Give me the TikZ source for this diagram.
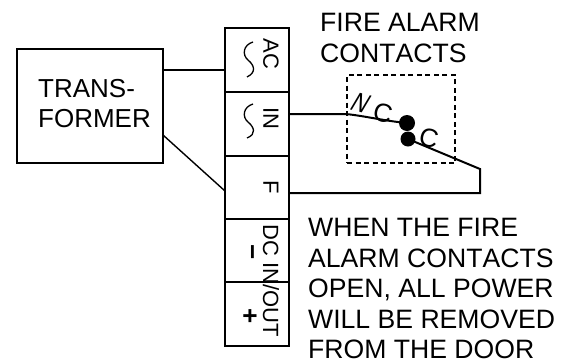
\documentclass[tikz,border=0pt]{standalone}
\usepackage{fontspec}
\setmainfont[Kerning=Off]{Liberation Sans}
\tikzset{
  heavy/.style={line width=2.6pt,draw=black},
  wire/.style={line width=2pt,draw=black,line join=miter},
  cell/.style={heavy,minimum width=64pt,minimum height=#1,inner sep=0pt,outer sep=0pt,anchor=north west},
  termlabel/.style={font=\fontsize{22}{22}\selectfont,rotate=-90,inner sep=0pt},
  note/.style={font=\fontsize{26.6}{30.5}\selectfont,align=left,inner sep=0pt,anchor=north west},
  squig/.style={line width=1.3pt,draw=black},
}
\begin{document}
\begin{tikzpicture}[x=1pt,y=-1pt]
\useasboundingbox (0,0) rectangle (570,362);
% transformer
\node[heavy,minimum width=146pt,minimum height=114pt,inner sep=0pt,outer sep=0pt,anchor=north west] (tr) at (17,49) {};
\node[font=\fontsize{26}{30}\selectfont,align=left,inner sep=0pt,anchor=north west] (trt) at (38,79.5) {TRANS-\\FORMER};
% terminal block
\node[cell=64pt] (ac) at (225,28) {};
\node[cell=64pt] (in) at (225,92) {};
\node[cell=63pt] (f) at (225,156) {};
\node[cell=63pt] (dc) at (225,219) {};
\node[cell=64pt] (pl) at (225,282) {};
\node[termlabel] (acl) at (271,54) {AC};
\node[termlabel] (inl) at (271,118) {IN};
\node[termlabel] (fl) at (271,187) {F};
\node[termlabel] (dcl) at (271,281) {DC IN/OUT};
\node[font=\bfseries\fontsize{26}{26}\selectfont,rotate=-90,inner sep=0pt] (mi) at (249,252) {\textminus};
\node[font=\bfseries\fontsize{26}{26}\selectfont,rotate=-90,inner sep=0pt] (pls) at (249,316) {+};
% squiggles
\draw[squig] (253,42) .. controls (243,45) and (242,55) .. (248,60) .. controls (254,65) and (257,72) .. (247,77);
\draw[squig] (253,104) .. controls (243,107) and (242,117) .. (248,122) .. controls (254,127) and (257,134) .. (247,138);
% coordinates for wires
\coordinate (tra) at (163,70);
\coordinate (acw) at (225,70);
\coordinate (trb) at (163,135);
\coordinate (fw) at (225,191);
\coordinate (ino) at (288,114);
\coordinate (fo) at (288,193);
\coordinate (k1) at (346,114);
\coordinate (k2) at (480,169);
\coordinate (k3) at (480,193);
\draw[wire] (tra) -- (acw);
\draw[line width=1.4pt] (trb) -- (fw);
% dashed box
\node[draw=black,line width=1.8pt,dash pattern=on 5pt off 3.5pt,minimum width=108pt,minimum height=88pt,inner sep=0pt,outer sep=0pt,anchor=north west] (cb) at (347,75) {};
% contacts
\node[circle,fill=black,minimum size=16pt,inner sep=0pt] (nc) at (407,123) {};
\node[circle,fill=black,minimum size=15pt,inner sep=0pt] (cc) at (408,139) {};
\draw[wire] (ino) -- (k1) .. controls (365,116) and (385,121) .. (nc.center);
\draw[wire] (cc.center) -- (k2) -- (k3) -- (fo);
% NC / C labels
\node[font=\fontsize{27}{27}\selectfont,inner sep=0pt,rotate=-14,xslant=0.3,xscale=0.8] (nct) at (361,103) {N};
\node[font=\fontsize{26}{26}\selectfont,inner sep=0pt,rotate=-14] (nct2) at (383,113) {C};
\node[font=\fontsize{26}{26}\selectfont,inner sep=0pt,rotate=-14] (ct) at (429,138) {C};
% notes
\node[note] (top) at (320,13) {FIRE ALARM\\CONTACTS};
\node[note] (bot) at (308,218) {WHEN THE FIRE\\ALARM CONTACTS\\OPEN, ALL POWER\\WILL BE REMOVED\\FROM THE DOOR};
\end{tikzpicture}
\end{document}
